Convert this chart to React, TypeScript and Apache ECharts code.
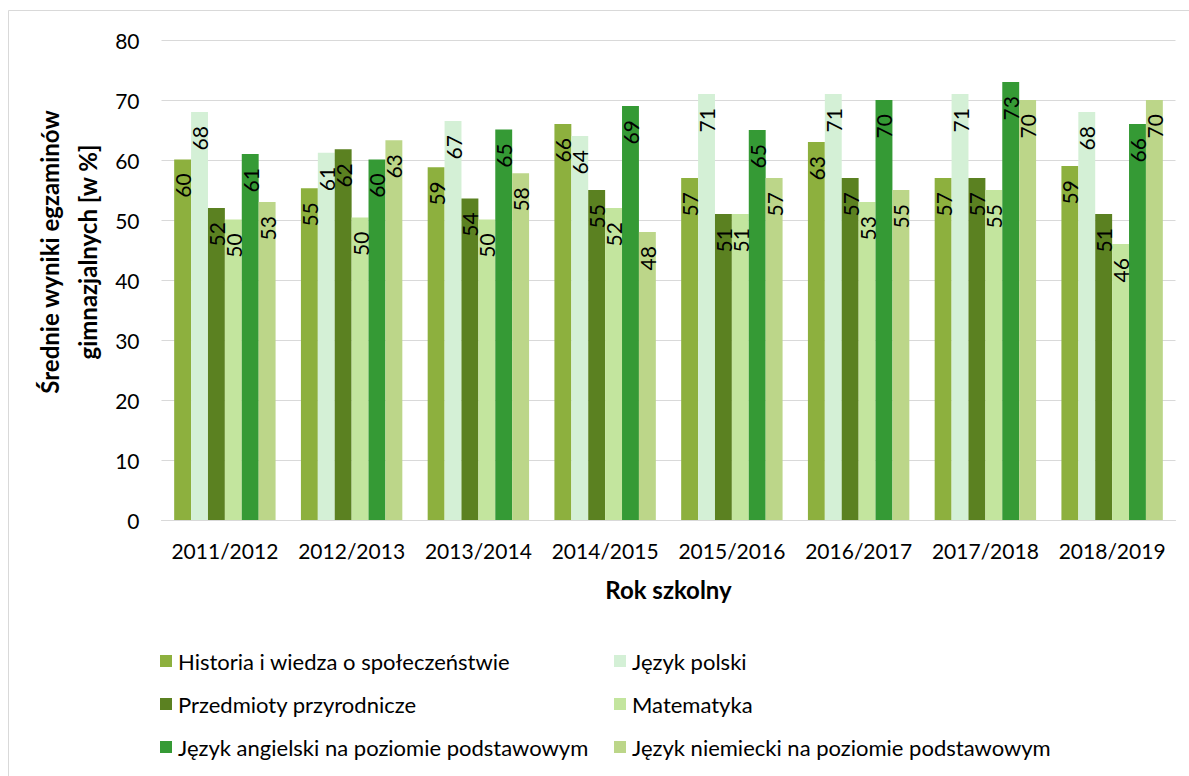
import React, { useEffect, useRef } from "react";
import * as echarts from "echarts";

const categories = ["2011/2012", "2012/2013", "2013/2014", "2014/2015", "2015/2016", "2016/2017", "2017/2018", "2018/2019"];
const historia = [60.1, 55.3, 58.8, 66, 57, 63, 57, 59];
const polski = [68, 61.2, 66.5, 64, 71, 71, 71, 68];
const przyroda = [52, 61.8, 53.6, 55, 51, 57, 57, 51];
const matematyka = [50.1, 50.4, 50.1, 52, 51, 53, 55, 46];
const angielski = [61, 60.1, 65.1, 69, 65, 70, 73, 66];
const niemiecki = [53, 63.3, 57.8, 48, 57, 55, 70, 70];
const yTicks = [0, 10, 20, 30, 40, 50, 60, 70, 80];

const seriesNames = [
  "Historia i wiedza o społeczeństwie",
  "Język polski",
  "Przedmioty przyrodnicze",
  "Matematyka",
  "Język angielski na poziomie podstawowym",
  "Język niemiecki na poziomie podstawowym",
];
const seriesData = [historia, polski, przyroda, matematyka, angielski, niemiecki];
const colors = ["#8DB03E", "#D4F0D6", "#5B8121", "#C3E59E", "#359A35", "#BCD689"];

const FONT = "Lato";

export default function App() {
  const ref = useRef<HTMLDivElement>(null);
  useEffect(() => {
    if (!ref.current) return;
    const chart = echarts.init(ref.current, null, { renderer: "svg" });
    const legendCommon = {
      orient: "vertical" as const,
      icon: "rect",
      itemWidth: 12,
      itemHeight: 12,
      itemGap: 19,
      selectedMode: false,
      textStyle: { fontFamily: FONT, fontSize: 22, color: "#000", lineHeight: 24, padding: [0, 0, 0, 1] },
    };
    chart.setOption({
      animation: false,
      backgroundColor: "#fff",
      textStyle: { fontFamily: FONT },
      color: colors,
      grid: { left: 161.5, top: 40, right: 13.5, bottom: 256, containLabel: false },
      legend: [
        { ...legendCommon, left: 155, top: 644, data: [seriesNames[0], seriesNames[2], seriesNames[4]] },
        { ...legendCommon, left: 609, top: 644, data: [seriesNames[1], seriesNames[3], seriesNames[5]] },
      ],
      xAxis: {
        type: "category",
        data: categories,
        name: "Rok szkolny",
        nameLocation: "middle",
        nameGap: 57,
        nameTextStyle: { fontFamily: FONT, fontSize: 24, fontWeight: "bold", color: "#000" },
        axisLine: { lineStyle: { color: "#d9d9d9", width: 1 } },
        axisTick: { show: false },
        axisLabel: { fontFamily: FONT, fontSize: 21, color: "#000", margin: 20, interval: 0 },
      },
      yAxis: {
        type: "value",
        min: yTicks[0],
        max: yTicks[yTicks.length - 1],
        interval: 10,
        axisLine: { show: false },
        axisTick: { show: false },
        splitLine: { lineStyle: { color: "#d9d9d9", width: 1 } },
        axisLabel: { fontFamily: FONT, fontSize: 21, color: "#000", margin: 22 },
      },
      graphic: [
        {
          type: "rect",
          silent: true,
          shape: { x: 8.5, y: 10.5, width: 1400, height: 1000 },
          style: { fill: "none", stroke: "#d9d9d9", lineWidth: 1 },
        },
        {
          type: "text",
          x: 49,
          y: 252,
          rotation: Math.PI / 2,
          style: {
            text: "Średnie wyniki egzaminów",
            fontFamily: FONT,
            fontSize: 24,
            fontWeight: "bold",
            fill: "#000",
            align: "center",
            verticalAlign: "middle",
          },
        },
        {
          type: "text",
          x: 87,
          y: 252,
          rotation: Math.PI / 2,
          style: {
            text: "gimnazjalnych [w %]",
            fontFamily: FONT,
            fontSize: 24,
            fontWeight: "bold",
            fill: "#000",
            align: "center",
            verticalAlign: "middle",
          },
        },
      ],
      series: seriesNames.map((name, i) => ({
        name,
        type: "bar",
        data: seriesData[i],
        barGap: "0%",
        barCategoryGap: "20%",
        itemStyle: { color: colors[i] },
        label: {
          show: true,
          position: "insideTop",
          rotate: 90,
          align: "right",
          verticalAlign: "middle",
          distance: 14,
          fontFamily: FONT,
          fontSize: 21,
          color: "#000",
          formatter: (p: any) => String(Math.round(p.value)),
        },
      })),
    });
    return () => chart.dispose();
  }, []);
  return (
    <div
      ref={ref}
      style={{ position: "fixed", left: 0, top: 0, width: 1189, height: 776, background: "#fff" }}
    />
  );
}
